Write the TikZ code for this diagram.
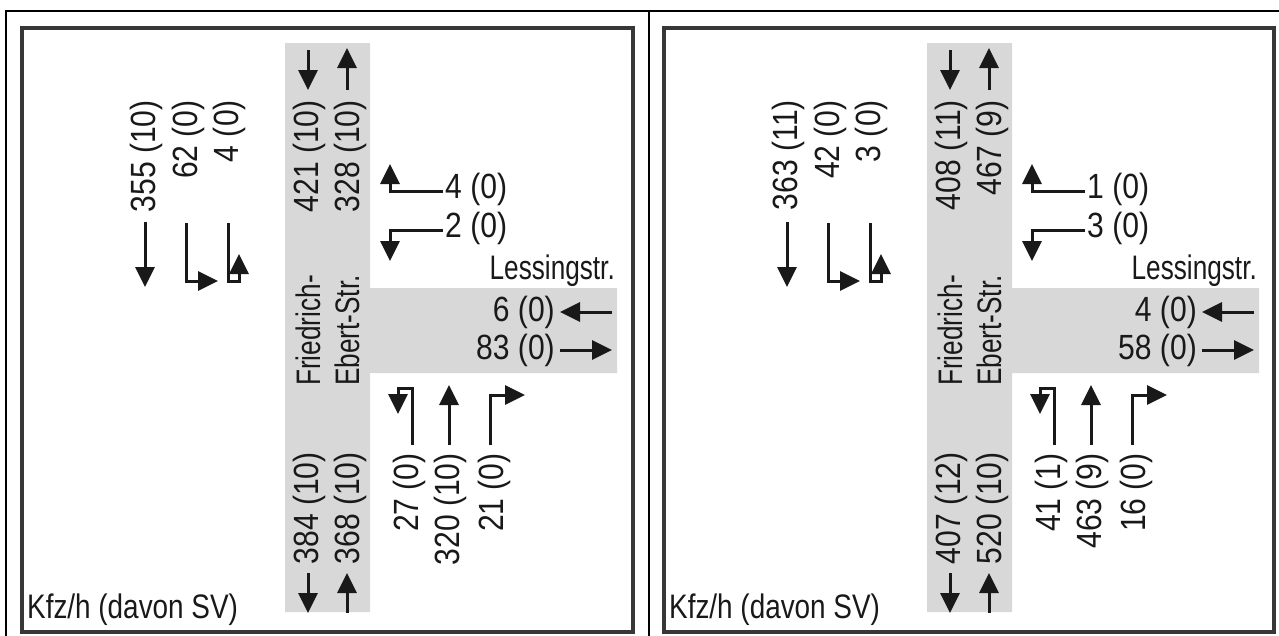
\documentclass[tikz,border=0pt]{standalone}
\usepackage{fontspec}
\setmainfont{Liberation Sans}
\newfontfamily\numfont[FakeStretch=0.86]{Liberation Sans}
\newfontfamily\txtfont[FakeStretch=0.77]{Liberation Sans}
\newfontfamily\legfont[FakeStretch=0.82]{Liberation Sans}
\usetikzlibrary{arrows.meta}
\definecolor{roadgray}{RGB}{216,216,216}
\definecolor{framegray}{RGB}{55,55,55}
\definecolor{ink}{RGB}{25,25,25}
\begin{document}
\begin{tikzpicture}[x=1pt,y=-1pt,
  road/.style={fill=roadgray,draw=none},
  flow/.style={draw=ink,line width=3pt,-{Triangle[length=20pt,width=19pt]}},
  lbl/.style={font=\numfont\fontsize{35}{40}\selectfont,text=ink,inner sep=0pt},
  vlbl/.style={lbl,rotate=90},
  txt/.style={font=\txtfont\fontsize{34}{40}\selectfont,text=ink,inner sep=0pt},
  vtxt/.style={txt,rotate=90},
  legend/.style={font=\legfont\fontsize{34}{40}\selectfont,text=ink,inner sep=0pt},
  panelframe/.style={draw=framegray,line width=3.5pt}]
\useasboundingbox (0,0) rectangle (1279,635);
\fill[white] (0,0) rectangle (1279,635);
% outer black frame
\draw[line width=2pt] (6,636) -- (6,11) -- (1280,11);
\draw[line width=2pt] (649,11) -- (649,636);

% ================= LEFT PANEL =================
\draw[panelframe] (22,28) rectangle (633,632);
\fill[road] (285,43) -- (370,43) -- (370,288) -- (617,288) -- (617,373) -- (370,373) -- (370,612) -- (285,612) -- cycle;
% north arm in road
\draw[flow] (308,50) -- (308,90);
\draw[flow] (347,90) -- (347,48);
\node[vlbl,anchor=east] (lN1) at (309,100) {421 (10)};
\node[vlbl,anchor=east] (lN2) at (350,100) {328 (10)};
% north approach
\node[vlbl,anchor=east] (lA1) at (146,100) {355 (10)};
\node[vlbl,anchor=east] (lA2) at (188,100) {62 (0)};
\node[vlbl,anchor=east] (lA3) at (229,100) {4 (0)};
\draw[flow] (145,222) -- (145,287);
\draw[flow] (186,223) -- (186,281) -- (218,281);
\draw[flow] (228,223) -- (228,281) -- (239,281) -- (239,254);
% east approach
\node[lbl,anchor=west] (lE1) at (445,189) {4 (0)};
\node[lbl,anchor=west] (lE2) at (445,228) {2 (0)};
\draw[flow] (lE1.west) ++(-2,2) -- (390,191) -- (390,164);
\draw[flow] (lE2.west) ++(-2,2) -- (390,230) -- (390,261);
\node[txt,anchor=base east] (lLess) at (615,279) {Lessingstr.};
\node[lbl,anchor=east] (lE3) at (555,312) {6 (0)};
\node[lbl,anchor=east] (lE4) at (555,350) {83 (0)};
\draw[flow] (612,312) -- (560,312);
\draw[flow] (560,350) -- (612,350);
% street name
\node[vtxt,anchor=west] (lF1) at (308,386) {Friedrich-};
\node[vtxt,anchor=west] (lF2) at (347,386) {Ebert-Str.};
% south arm in road
\node[vlbl,anchor=east] (lS1) at (309,452) {384 (10)};
\node[vlbl,anchor=east] (lS2) at (350,452) {368 (10)};
\draw[flow] (308,573) -- (308,613);
\draw[flow] (347,613) -- (347,573);
% south approach
\node[vlbl,anchor=east] (lB1) at (409,453) {27 (0)};
\node[vlbl,anchor=east] (lB2) at (450,453) {320 (10)};
\node[vlbl,anchor=east] (lB3) at (494,453) {21 (0)};
\draw[flow] (412,445) -- (412,388) -- (398,388) -- (398,414);
\draw[flow] (449,445) -- (449,385);
\draw[flow] (490,445) -- (490,395) -- (525,395);
\node[legend,anchor=base west] (lK) at (27,618) {Kfz/h (davon SV)};

% ================= RIGHT PANEL =================
\begin{scope}[xshift=642pt]
\draw[panelframe] (22,28) rectangle (632,632);
\fill[road] (285,43) -- (370,43) -- (370,288) -- (617,288) -- (617,373) -- (370,373) -- (370,612) -- (285,612) -- cycle;
\draw[flow] (308,50) -- (308,90);
\draw[flow] (347,90) -- (347,48);
\node[vlbl,anchor=east] (rN1) at (309,100) {408 (11)};
\node[vlbl,anchor=east] (rN2) at (350,100) {467 (9)};
\node[vlbl,anchor=east] (rA1) at (146,100) {363 (11)};
\node[vlbl,anchor=east] (rA2) at (188,100) {42 (0)};
\node[vlbl,anchor=east] (rA3) at (229,100) {3 (0)};
\draw[flow] (145,222) -- (145,287);
\draw[flow] (186,223) -- (186,281) -- (218,281);
\draw[flow] (228,223) -- (228,281) -- (239,281) -- (239,254);
\node[lbl,anchor=west] (rE1) at (445,189) {1 (0)};
\node[lbl,anchor=west] (rE2) at (445,228) {3 (0)};
\draw[flow] (rE1.west) ++(-2,2) -- (390,191) -- (390,164);
\draw[flow] (rE2.west) ++(-2,2) -- (390,230) -- (390,261);
\node[txt,anchor=base east] (rLess) at (615,279) {Lessingstr.};
\node[lbl,anchor=east] (rE3) at (555,312) {4 (0)};
\node[lbl,anchor=east] (rE4) at (555,350) {58 (0)};
\draw[flow] (612,312) -- (560,312);
\draw[flow] (560,350) -- (612,350);
\node[vtxt,anchor=west] (rF1) at (308,386) {Friedrich-};
\node[vtxt,anchor=west] (rF2) at (347,386) {Ebert-Str.};
\node[vlbl,anchor=east] (rS1) at (309,452) {407 (12)};
\node[vlbl,anchor=east] (rS2) at (350,452) {520 (10)};
\draw[flow] (308,573) -- (308,613);
\draw[flow] (347,613) -- (347,573);
\node[vlbl,anchor=east] (rB1) at (409,453) {41 (1)};
\node[vlbl,anchor=east] (rB2) at (450,453) {463 (9)};
\node[vlbl,anchor=east] (rB3) at (494,453) {16 (0)};
\draw[flow] (412,445) -- (412,388) -- (398,388) -- (398,414);
\draw[flow] (449,445) -- (449,385);
\draw[flow] (490,445) -- (490,395) -- (525,395);
\node[legend,anchor=base west] (rK) at (27,618) {Kfz/h (davon SV)};
\end{scope}
\end{tikzpicture}
\end{document}
